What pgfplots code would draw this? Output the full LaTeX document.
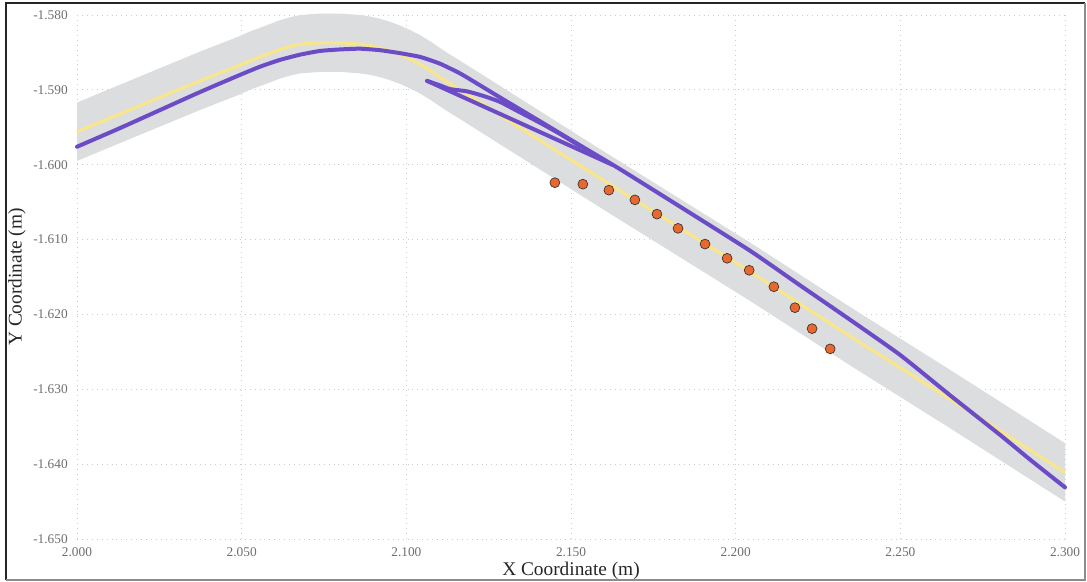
\documentclass[border=0pt]{standalone}
\usepackage{pgfplots}
\pgfplotsset{compat=1.18}
\usepackage{fontspec}
\setmainfont{Liberation Serif}
\definecolor{band}{RGB}{220,221,223}
\definecolor{yel}{RGB}{248,230,140}
\definecolor{pur}{RGB}{108,76,198}
\definecolor{dotc}{RGB}{234,104,46}
\definecolor{tickc}{RGB}{110,110,110}
\definecolor{gridc}{RGB}{205,205,205}
\begin{document}
\begin{tikzpicture}
\begin{axis}[
  scale only axis, width=741pt, height=393pt,
  xmin=2, xmax=2.3, ymin=-1.65, ymax=-1.58,
  clip=false,
  axis line style={draw=none},
  major tick length=0pt,
  xtick={2,2.05,2.1,2.15,2.2,2.25,2.3},
  xticklabels={2.000,2.050,2.100,2.150,2.200,2.250,2.300},
  ytick={-1.65,-1.64,-1.63,-1.62,-1.61,-1.6,-1.59,-1.58},
  yticklabels={-1.650,-1.640,-1.630,-1.620,-1.610,-1.600,-1.590,-1.580},
  grid=major,
  major grid style={gridc, line width=0.6pt, dash pattern=on 0.7pt off 3pt},
  xticklabel style={font=\fontsize{10}{12}\selectfont, text=tickc, anchor=north, inner sep=0pt, yshift=-6pt},
  yticklabel style={font=\fontsize{10}{12}\selectfont, text=tickc, anchor=east, inner sep=0pt, xshift=-6.75pt},
  xlabel={X Coordinate (m)},
  ylabel={Y Coordinate (m)},
  xlabel style={at={(axis description cs:0.5,-0.0445)}, anchor=north, inner sep=0pt, font=\fontsize{14.5}{16}\selectfont, text=black!85},
  ylabel style={at={(axis description cs:-0.0607,0.5)}, anchor=center, inner sep=0pt, font=\fontsize{14.5}{16}\selectfont, text=black!85},
]
% uncertainty band (upper edge, then lower edge reversed)
\addplot[fill=band, draw=none, forget plot] coordinates {
(2.0000,-1.5917) (2.0131,-1.5893) (2.0252,-1.5871) (2.0373,-1.5849) (2.0495,-1.5828)
(2.0525,-1.5822) (2.0556,-1.5817) (2.0586,-1.5812) (2.0616,-1.5807) (2.0647,-1.5803)
(2.0677,-1.5800) (2.0708,-1.5799) (2.0738,-1.5798) (2.0768,-1.5798) (2.0799,-1.5798)
(2.0829,-1.5799) (2.0859,-1.5800) (2.0890,-1.5802) (2.0920,-1.5805) (2.0950,-1.5809)
(2.0981,-1.5814) (2.1011,-1.5820) (2.1042,-1.5827) (2.1072,-1.5835) (2.1102,-1.5844)
(2.1133,-1.5853) (2.1163,-1.5861) (2.1588,-1.5979) (2.2044,-1.6104) (2.2347,-1.6190)
(2.2651,-1.6274) (2.3000,-1.6372)
(2.3000,-1.6450) (2.2651,-1.6352) (2.2347,-1.6268) (2.2044,-1.6182) (2.1588,-1.6057)
(2.1163,-1.5939) (2.1133,-1.5931) (2.1102,-1.5922) (2.1072,-1.5913) (2.1042,-1.5905)
(2.1011,-1.5898) (2.0981,-1.5892) (2.0950,-1.5887) (2.0920,-1.5883) (2.0890,-1.5880)
(2.0859,-1.5878) (2.0829,-1.5877) (2.0799,-1.5876) (2.0768,-1.5876) (2.0738,-1.5876)
(2.0708,-1.5877) (2.0677,-1.5878) (2.0647,-1.5881) (2.0616,-1.5885) (2.0586,-1.5890)
(2.0556,-1.5895) (2.0525,-1.5900) (2.0495,-1.5906) (2.0373,-1.5927) (2.0252,-1.5949)
(2.0131,-1.5971) (2.0000,-1.5995)};
% reference path (yellow)
\addplot[yel, line width=2.4pt, smooth, tension=0.3] coordinates {
(2.0000,-1.5956) (2.0131,-1.5932) (2.0252,-1.5910) (2.0373,-1.5888) (2.0495,-1.5867)
(2.0525,-1.5861) (2.0556,-1.5856) (2.0586,-1.5851) (2.0616,-1.5846) (2.0647,-1.5842)
(2.0677,-1.5839) (2.0708,-1.5838) (2.0738,-1.5837) (2.0768,-1.5837) (2.0799,-1.5837)
(2.0829,-1.5838) (2.0859,-1.5839) (2.0890,-1.5841) (2.0920,-1.5844) (2.0950,-1.5848)
(2.0981,-1.5853) (2.1011,-1.5859) (2.1042,-1.5866) (2.1072,-1.5874) (2.1102,-1.5883)
(2.1133,-1.5892) (2.1163,-1.5900) (2.1588,-1.6018) (2.2044,-1.6143) (2.2347,-1.6229)
(2.2651,-1.6313) (2.3000,-1.6411)};
% estimated path (purple)
\addplot[pur, line width=3pt, smooth, tension=0.3, line cap=round] coordinates {
(2.0000,-1.5976) (2.0131,-1.5951) (2.0252,-1.5927) (2.0373,-1.5903) (2.0495,-1.5880)
(2.0556,-1.5869) (2.0616,-1.5860) (2.0677,-1.5853) (2.0738,-1.5848) (2.0799,-1.5846)
(2.0859,-1.5845) (2.0920,-1.5847) (2.0981,-1.5851) (2.1042,-1.5856) (2.1102,-1.5865)
(2.1163,-1.5878) (2.1224,-1.5894) (2.1284,-1.5910) (2.1406,-1.5942) (2.1527,-1.5974)
(2.1649,-1.6006) (2.1831,-1.6056) (2.2044,-1.6115) (2.2195,-1.6161) (2.2347,-1.6207)
(2.2499,-1.6254) (2.2651,-1.6308) (2.2803,-1.6361) (2.2894,-1.6394) (2.3000,-1.6431)};
\addplot[pur, line width=3pt, line cap=round] coordinates {
(2.1625,-1.6000) (2.1063,-1.5888)};
\addplot[pur, line width=3pt, smooth, tension=0.4, line cap=round] coordinates {
(2.1063,-1.5888) (2.1102,-1.5894) (2.1133,-1.5899) (2.1184,-1.5902) (2.1233,-1.5908)
(2.1284,-1.5916) (2.1345,-1.5930) (2.1406,-1.5944) (2.1467,-1.5959) (2.1527,-1.5975)};
% measurements (orange dots)
\addplot[only marks, mark=*, mark size=3.7pt, mark options={fill=dotc, draw=black!80, line width=0.5pt}] coordinates {
(2.1451,-1.6024) (2.1536,-1.6026) (2.1615,-1.6034) (2.1694,-1.6047) (2.1761,-1.6066)
(2.1825,-1.6085) (2.1907,-1.6106) (2.1974,-1.6125) (2.2041,-1.6141) (2.2116,-1.6163)
(2.2180,-1.6191) (2.2232,-1.6219) (2.2287,-1.6246)};
\end{axis}
\draw[black!85, line width=1.5pt] (-53.25pt,-30.75pt) -- (-53.25pt,402pt) -- (756pt,402pt);
\draw[black!45, line width=0.8pt] (756pt,402pt) -- (756pt,-30.75pt) -- (-53.25pt,-30.75pt);
\pgfresetboundingbox
\useasboundingbox (-57.75pt,-31.5pt) rectangle (757.5pt,404.25pt);
\end{tikzpicture}
\end{document}
